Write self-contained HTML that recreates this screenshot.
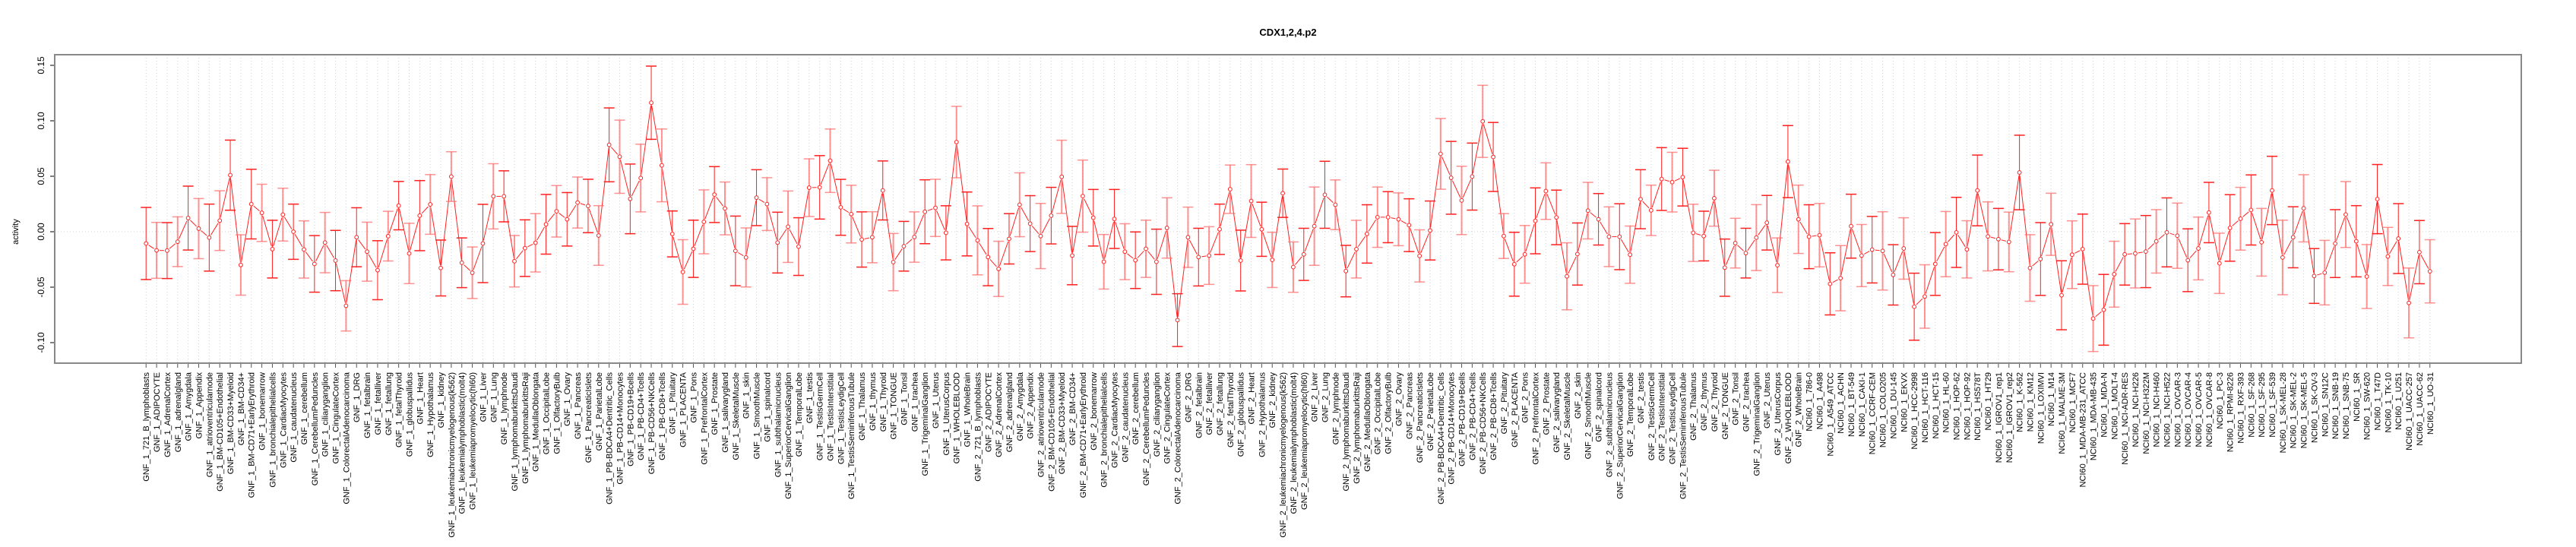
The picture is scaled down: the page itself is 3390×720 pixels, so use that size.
<!DOCTYPE html>
<html><head><meta charset="utf-8"><title>CDX1,2,4.p2</title>
<style>
html,body{margin:0;padding:0;background:#fff;}
svg{display:block;font-family:"Liberation Sans",sans-serif;}
</style></head>
<body>
<svg id="chart" width="3390" height="720" viewBox="0 0 3390 720" xmlns="http://www.w3.org/2000/svg">
<text x="1695" y="47" text-anchor="middle" font-size="13" font-weight="bold">CDX1,2,4.p2</text>
<text transform="translate(24,305) rotate(-90)" text-anchor="middle" font-size="11">activity</text>
<g id="grid"></g>
<g id="yaxis"></g>
<g id="xaxis"></g>
<g id="series"></g>
<rect x="72" y="72" width="3246" height="406" fill="none" stroke="#888" stroke-width="2"/>
</svg>
<script>
const gnfTissues = ["721_B_lymphoblasts","ADIPOCYTE","AdrenalCortex","adrenalgland","Amygdala","Appendix","atrioventricularnode","BM-CD105+Endothelial","BM-CD33+Myeloid","BM-CD34+","BM-CD71+EarlyErythroid","bonemarrow","bronchialepithelialcells","CardiacMyocytes","caudatenucleus","cerebellum","CerebellumPeduncles","ciliaryganglion","CingulateCortex","ColorectalAdenocarcinoma","DRG","fetalbrain","fetalliver","fetallung","fetalThyroid","globuspallidus","Heart","Hypothalamus","kidney","leukemiachronicmyelogenous(k562)","leukemialymphoblastic(molt4)","leukemiapromyelocytic(hl60)","Liver","Lung","lymphnode","lymphomaburkittsDaudi","lymphomaburkittsRaji","MedullaOblongata","OccipitalLobe","OlfactoryBulb","Ovary","Pancreas","PancreaticIslets","ParietalLobe","PB-BDCA4+Dentritic_Cells","PB-CD14+Monocytes","PB-CD19+Bcells","PB-CD4+Tcells","PB-CD56+NKCells","PB-CD8+Tcells","Pituitary","PLACENTA","Pons","PrefrontalCortex","Prostate","salivarygland","SkeletalMuscle","skin","SmoothMuscle","spinalcord","subthalamicnucleus","SuperiorCervicalGanglion","TemporalLobe","testis","TestisGermCell","TestisInterstitial","TestisLeydigCell","TestisSeminiferousTubule","Thalamus","thymus","Thyroid","TONGUE","Tonsil","trachea","TrigeminalGanglion","Uterus","UterusCorpus","WHOLEBLOOD","WholeBrain"];
const nciLines = ["786-0","A498","A549_ATCC","ACHN","BT-549","CAKI-1","CCRF-CEM","COLO205","DU-145","EKVX","HCC-2998","HCT-116","HCT-15","HL-60","HOP-62","HOP-92","HS578T","HT29","IGROV1_rep1","IGROV1_rep2","K-562","KM12","LOXIMVI","M14","MALME-3M","MCF7","MDA-MB-231_ATCC","MDA-MB-435","MDA-N","MOLT-4","NCI-ADR-RES","NCI-H226","NCI-H322M","NCI-H460","NCI-H522","OVCAR-3","OVCAR-4","OVCAR-5","OVCAR-8","PC-3","RPMI-8226","RXF-393","SF-268","SF-295","SF-539","SK-MEL-28","SK-MEL-2","SK-MEL-5","SK-OV-3","SN12C","SNB-19","SNB-75","SR","SW-620","T47D","TK-10","U251","UACC-257","UACC-62","UO-31"];
const categories = gnfTissues.map(t=>"GNF_1_"+t).concat(gnfTissues.map(t=>"GNF_2_"+t)).concat(nciLines.map(t=>"NCI60_1_"+t));
const values = [-0.0106,-0.0168,-0.017,-0.009,0.0123,0.0028,-0.0053,0.010,0.051,-0.030,
0.0249,0.017,-0.0157,0.0154,0,-0.016,-0.029,-0.0098,-0.026,-0.0668,
-0.005,-0.018,-0.0347,-0.004,0.0235,-0.0196,0.0145,0.0246,-0.0327,0.0497,
-0.028,-0.037,-0.0106,0.0319,0.0319,-0.0266,-0.0148,-0.010,0.0067,0.0184,
0.0112,0.0263,0.0232,-0.0034,0.0783,0.0676,0.0296,0.0484,0.1163,0.0598,
-0.002,-0.0363,-0.0154,0.0089,0.0335,0.021,-0.0173,-0.0232,0.0307,0.0249,
-0.0098,0.0045,-0.0134,0.0397,0.040,0.064,0.022,0.0159,-0.007,-0.005,
0.0372,-0.0274,-0.0131,-0.0048,0.018,0.0215,-0.001,0.0808,0.007,-0.0078,
-0.0229,-0.0335,-0.0064,0.0243,0.0073,-0.0039,0.0145,0.0495,-0.0215,0.0321,
0.0126,-0.0271,0.0115,-0.018,-0.0257,-0.0154,-0.0271,0.0034,-0.0797,-0.005,
-0.0229,-0.0215,0.0022,0.0383,-0.026,0.0277,0.0022,-0.0254,0.0347,-0.0319,
-0.0204,0.005,0.0333,0.0243,-0.0355,-0.0157,-0.002,0.0131,0.0131,0.0112,
0.0059,-0.0218,0.0011,0.0702,0.0486,0.0282,0.0497,0.0995,0.0674,-0.0039,
-0.0293,-0.0204,0.0098,0.0366,0.0129,-0.0402,-0.0201,0.019,0.0112,-0.0045,
-0.0045,-0.0207,0.0293,0.0193,0.0475,0.0447,0.0492,-0.001,-0.0039,0.0302,
-0.0324,-0.0103,-0.0193,-0.0053,0.0081,-0.0302,0.0632,0.0112,-0.0045,-0.0031,
-0.047,-0.0419,0.005,-0.0215,-0.0162,-0.0173,-0.0389,-0.0151,-0.0676,-0.0584,
-0.0291,-0.0112,-0.0006,-0.0159,0.0372,-0.0042,-0.0067,-0.0092,0.0534,-0.0327,
-0.0246,0.0067,-0.0573,-0.0207,-0.0157,-0.0783,-0.0704,-0.0383,-0.0204,-0.0196,
-0.0179,-0.0087,-0.0006,-0.0036,-0.0257,-0.0151,0.0173,-0.0285,0.0034,0.0117,
0.0196,-0.0095,0.0372,-0.0232,-0.005,0.0211,-0.0399,-0.0369,-0.0107,0.0155,
-0.0086,-0.0404,0.0294,-0.0223,-0.0062,-0.0642,-0.0184,-0.0357];
const errors = [.0325,.0252,.0252,.0224,.0288,.0271,.0302,.0269,.0316,.0272,
.0314,.0258,.026,.0238,.0249,.0258,.0255,.0272,.0272,.0227,
.0266,.0266,.0266,.0224,.0218,.0272,.0316,.0269,.0252,.0224,
.0224,.0232,.0353,.0294,.023,.0232,.0255,.0263,.0269,.0232,
.0241,.023,.0241,.0269,.0333,.033,.0314,.0305,.033,.0328,
.0207,.0291,.0258,.0288,.0252,.0238,.0314,.0266,.0252,.0238,
.0274,.0322,.026,.026,.0286,.0286,.0252,.026,.0249,.023,
.0266,.0258,.0224,.0227,.0288,.0258,.0244,.0322,.0288,.0311,
.0258,.0249,.0227,.0288,.0252,.0294,.0255,.033,.0263,.0325,
.0255,.0246,.0266,.0252,.0255,.0258,.0294,.0272,.0238,.0272,
.026,.026,.0227,.0218,.0274,.0328,.0244,.0249,.0218,.0227,
.0235,.0353,.0302,.0224,.0232,.026,.0263,.0272,.023,.0238,
.0238,.0235,.0266,.0319,.0328,.0308,.0302,.0325,.0311,.0202,
.0288,.026,.0297,.0255,.0246,.0302,.028,.0255,.0232,.0269,
.0297,.0258,.0266,.0227,.0283,.0269,.026,.0258,.0224,.0252,
.0258,.0224,.0224,.0297,.0246,.0246,.0325,.0308,.0288,.0286,
.028,.0294,.0288,.028,.03,.0353,.0272,.0277,.0302,.0286,
.0283,.0294,.0316,.0258,.0319,.0311,.0277,.0269,.0336,.03,
.0328,.028,.0311,.0305,.0316,.0297,.0319,.0297,.0277,.0311,
.0325,.0286,.0311,.0294,.0283,.0283,.0272,.0272,.03,.0283,
.0316,.0305,.0308,.0336,.0275,.0303,.0247,.0291,.0306,.0297,
.0321,.0288,.0312,.0262,.0315,.0315,.0285,.0285];
const yTicks = [-0.10,-0.05,0.00,0.05,0.10,0.15];
const yTickLabels = ["-0.10","-0.05","0.00","0.05","0.10","0.15"];

const NS="http://www.w3.org/2000/svg";
const plotL=72, plotR=3318, plotT=72, plotB=478;
const n=categories.length;
const step=(plotR-plotL)/((n-1)*1.08);
const x0=plotL+(n-1)*0.04*step;
function xScale(i){return x0+i*step;}
function yScale(v){return 305 - v*1460;}
function mk(tag,attrs,parent){const e=document.createElementNS(NS,tag);for(const k in attrs)e.setAttribute(k,attrs[k]);parent.appendChild(e);return e;}

const grid=document.getElementById('grid'), yaxis=document.getElementById('yaxis'), xaxis=document.getElementById('xaxis'), series=document.getElementById('series');

categories.forEach((c,i)=>{
  const gl=mk('line',{x1:xScale(i),x2:xScale(i),y1:plotT,y2:plotB,stroke:'#d0d0d0','stroke-width':1,'stroke-dasharray':'1,3'},grid);
  
  
  const t=mk('line',{x1:xScale(i),x2:xScale(i),y1:plotB,y2:plotB+6,stroke:'#555','stroke-width':1},xaxis);
  
  
  const lb=mk('text',{transform:`translate(${xScale(i)+4},${plotB+12}) rotate(-90)`,'text-anchor':'end','font-size':11,fill:'#000'},xaxis);
  lb.textContent=c;
  
  
});
const zl=mk('line',{x1:plotL,x2:plotR,y1:yScale(0),y2:yScale(0),stroke:'#d0d0d0','stroke-width':1,'stroke-dasharray':'1,3'},grid);



const ax=mk('line',{x1:plotL,x2:plotL,y1:yScale(yTicks[0]),y2:yScale(yTicks[yTicks.length-1]),stroke:'#555','stroke-width':1.5},yaxis);


yTicks.forEach((v,k)=>{
  const t=mk('line',{x1:plotL-6,x2:plotL,y1:yScale(v),y2:yScale(v),stroke:'#555','stroke-width':1.5},yaxis);
  
  
  const lb=mk('text',{transform:`translate(${plotL-14},${yScale(v)}) rotate(-90)`,'text-anchor':'middle','font-size':12},yaxis);
  lb.textContent=yTickLabels[k];
  
  
});

const red='#ff2020', pink='rgba(255,110,110,0.75)';
// connecting lines with gaps around points
for(let i=0;i<n-1;i++){
  const xa=xScale(i),ya=yScale(values[i]),xb=xScale(i+1),yb=yScale(values[i+1]);
  const dx=xb-xa,dy=yb-ya,L=Math.hypot(dx,dy),g=4;
  if(L<=2*g) continue;
  const s=mk('line',{x1:xa+dx*g/L,y1:ya+dy*g/L,x2:xb-dx*g/L,y2:yb-dy*g/L,stroke:red,'stroke-width':1},series);
  
  
}
values.forEach((v,i)=>{
  const x=xScale(i), e=errors[i];
  const col = i%2===0 ? red : pink;
  const w = i%2===0 ? 1 : 2;
  const g=mk('g',{},series);
  
  
  mk('line',{x1:x,x2:x,y1:yScale(v+e),y2:yScale(v-e),stroke:col,'stroke-width':w},g);
  mk('line',{x1:x-7,x2:x+7,y1:yScale(v+e),y2:yScale(v+e),stroke:col,'stroke-width':1.5},g);
  mk('line',{x1:x-7,x2:x+7,y1:yScale(v-e),y2:yScale(v-e),stroke:col,'stroke-width':1.5},g);
  const p=mk('circle',{cx:x,cy:yScale(v),r:2.4,fill:'#fff',stroke:red,'stroke-width':1},series);
  
  
});
</script>
</body></html>
